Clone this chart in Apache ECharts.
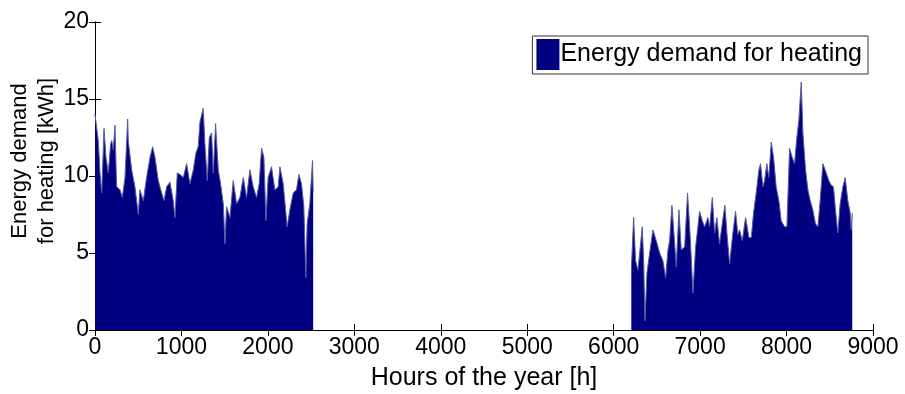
<!DOCTYPE html>
<html>
<head>
<meta charset="utf-8">
<script src="https://cdn.jsdelivr.net/npm/echarts@6/dist/echarts.min.js"></script>
<style>
  html, body { margin: 0; padding: 0; background: #fff; }
  #main { width: 905px; height: 394px; }
</style>
</head>
<body>
<div id="main"></div>
<script>
// 采暖季前段 (1月-4月) 小时数与需求
const earlyHours = [0, 38, 58, 77, 96, 104, 127, 154, 181, 193, 212, 231, 250, 289, 316, 347, 378, 385, 424, 462,
  501, 520, 559, 597, 636, 667, 694, 732, 771, 798, 829, 867, 905, 925, 952, 983, 1021, 1060, 1098, 1137,
  1168, 1194, 1214, 1252, 1272, 1299, 1322, 1349, 1368, 1395, 1426, 1453, 1484, 1503, 1522, 1561, 1599, 1638, 1676, 1715,
  1753, 1792, 1830, 1869, 1899, 1927, 1954, 1977, 2003, 2042, 2081, 2119, 2139, 2177, 2223, 2254, 2293, 2331, 2358, 2389,
  2416, 2439, 2454, 2485, 2516, 2524];
const earlyDemand = [14.0, 12.3, 10.2, 8.9, 11.7, 13.1, 11.2, 10.2, 12.1, 12.3, 11.7, 13.3, 9.3, 9.1, 8.6, 9.9, 13.7, 12.3, 10.4, 9.3,
  7.5, 9.1, 8.4, 9.9, 11.2, 11.9, 11.2, 9.7, 8.9, 8.4, 9.3, 9.6, 8.4, 7.3, 10.2, 10.1, 9.9, 10.8, 9.5, 10.4,
  11.5, 11.9, 13.5, 14.4, 12.0, 9.7, 12.5, 12.8, 10.2, 13.4, 10.4, 9.5, 8.2, 5.6, 8.0, 7.3, 9.7, 8.2, 8.6, 9.9,
  8.6, 10.4, 9.3, 8.6, 9.5, 11.8, 11.2, 7.1, 9.9, 10.6, 9.1, 9.3, 10.6, 9.5, 6.7, 7.8, 8.9, 9.1, 10.1, 9.5,
  8.0, 3.4, 6.9, 8.2, 11.0, 9.0];

// 采暖季后段 (9月-12月)
const lateHours = [6204, 6231, 6254, 6281, 6308, 6331, 6347, 6362, 6385, 6416, 6454, 6493, 6532, 6570, 6601, 6628, 6647, 6674, 6697, 6724,
  6755, 6782, 6821, 6855, 6886, 6917, 6948, 6974, 6994, 7025, 7052, 7090, 7110, 7141, 7168, 7194, 7225, 7256, 7287, 7310,
  7341, 7379, 7410, 7437, 7457, 7488, 7526, 7565, 7592, 7618, 7649, 7680, 7699, 7726, 7746, 7772, 7795, 7823, 7850, 7880,
  7911, 7938, 7977, 8004, 8035, 8066, 8092, 8119, 8142, 8170, 8189, 8220, 8247, 8274, 8304, 8335, 8362, 8389, 8420, 8459,
  8489, 8517, 8543, 8566, 8593, 8620, 8651, 8678, 8709, 8736, 8748, 8760];
const lateDemand = [3.9, 7.3, 4.5, 3.9, 5.4, 6.7, 4.5, 0.6, 3.7, 5.0, 6.5, 5.8, 5.0, 4.5, 3.4, 5.2, 5.8, 8.1, 6.3, 4.1,
  7.8, 5.2, 5.4, 8.9, 6.0, 2.4, 5.4, 6.7, 7.7, 7.1, 6.7, 7.3, 6.7, 8.6, 6.3, 7.3, 5.6, 6.9, 8.1, 6.3,
  4.3, 6.3, 7.7, 6.2, 6.5, 5.8, 7.3, 6.0, 6.0, 7.6, 8.9, 10.4, 10.8, 9.3, 9.7, 10.8, 9.9, 12.2, 11.2, 9.3,
  8.4, 7.1, 6.7, 6.7, 11.8, 11.2, 10.8, 12.5, 13.6, 16.1, 12.8, 10.4, 9.1, 8.4, 7.8, 6.9, 6.7, 8.4, 10.8, 10.2,
  9.7, 9.4, 9.3, 7.8, 6.3, 8.2, 9.3, 9.9, 8.4, 7.6, 6.5, 7.6];

const seriesName = 'Energy demand for heating';
const navy = '#000080';
const textFont = "'Liberation Sans', Arial, sans-serif";

// 两段数据之间用空值断开
const demandData = earlyHours.map((h, i) => [h, earlyDemand[i]])
  .concat([[4000, null]])
  .concat(lateHours.map((h, i) => [h, lateDemand[i]]));

const tickLabel = {fontFamily: textFont, fontSize: 23, color: '#000', margin: 6, formatter: v => String(v)};

const myChart = echarts.init(document.getElementById('main'));
myChart.setOption({
  animation: false,
  backgroundColor: '#fff',
  grid: {left: 95, right: 32, top: 22, bottom: 64, outerBoundsMode: 'none', containLabel: false},
  legend: {
    right: 37,
    top: 36,
    icon: 'rect',
    itemWidth: 23,
    itemHeight: 31,
    itemGap: 4,
    padding: [3, 6, 4, 4],
    borderColor: '#333',
    borderWidth: 1,
    backgroundColor: '#fff',
    data: [seriesName],
    textStyle: {fontFamily: textFont, fontSize: 25, color: '#000', padding: [0, 0, 0, -4]}
  },
  xAxis: [{
    type: 'value',
    min: 0,
    max: 9000,
    interval: 1000,
    name: 'Hours of the year [h]',
    nameLocation: 'middle',
    nameGap: 36,
    nameMoveOverlap: false,
    nameTextStyle: {fontFamily: textFont, fontSize: 25, color: '#000', verticalAlign: 'top'},
    axisLine: {lineStyle: {color: '#000'}},
    axisTick: {inside: true, length: 6, lineStyle: {color: '#000'}},
    axisLabel: tickLabel,
    splitLine: {show: false}
  }, {
    type: 'value',
    position: 'top',
    min: 0,
    max: 9000,
    interval: 1000,
    axisLine: {show: true, lineStyle: {color: '#000'}},
    axisTick: {inside: true, length: 6, lineStyle: {color: '#000'}},
    axisLabel: {show: false},
    splitLine: {show: false}
  }],
  yAxis: [{
    type: 'value',
    min: 0,
    max: 20,
    interval: 5,
    name: 'Energy demand\nfor heating [kWh]',
    nameLocation: 'middle',
    nameGap: 35,
    nameMoveOverlap: false,
    nameTextStyle: {fontFamily: textFont, fontSize: 22, color: '#000', lineHeight: 27, padding: [0, 0, 0, 30]},
    axisLine: {show: true, lineStyle: {color: '#000'}},
    axisTick: {show: true, inside: true, length: 6, lineStyle: {color: '#000'}},
    axisLabel: tickLabel,
    splitLine: {show: false}
  }, {
    type: 'value',
    position: 'right',
    min: 0,
    max: 20,
    interval: 5,
    axisLine: {show: true, lineStyle: {color: '#000'}},
    axisTick: {show: true, inside: true, length: 6, lineStyle: {color: '#000'}},
    axisLabel: {show: false},
    splitLine: {show: false}
  }],
  series: [{
    name: seriesName,
    type: 'line',
    data: demandData,
    showSymbol: false,
    connectNulls: false,
    itemStyle: {color: navy},
    lineStyle: {color: '#5a5aa0', width: 1},
    areaStyle: {color: navy, opacity: 1}
  }]
});
</script>
</body>
</html>
